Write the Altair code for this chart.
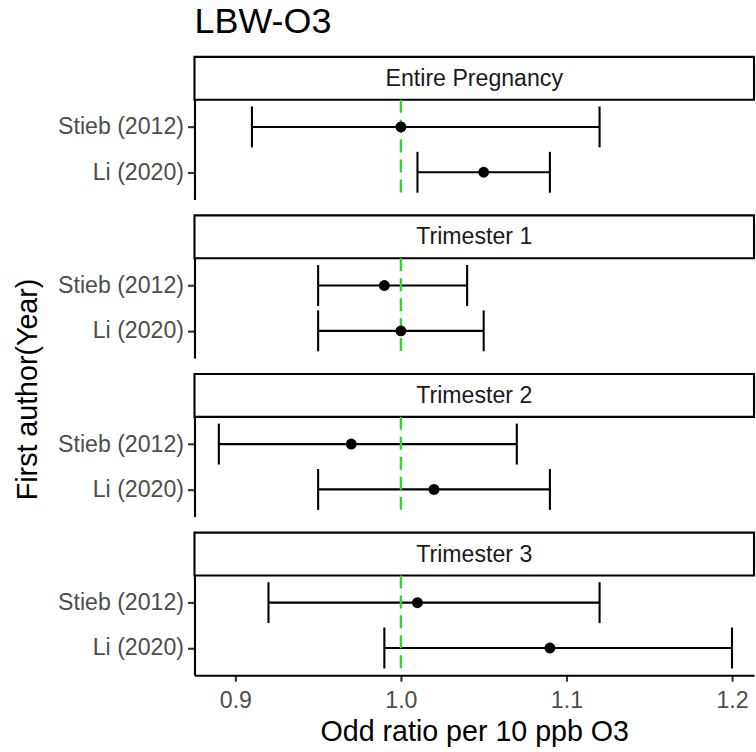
import altair as alt
import pandas as pd

# ---- data ----
periods = ["Entire Pregnancy", "Trimester 1", "Trimester 2", "Trimester 3"]
authors = ["Stieb (2012)", "Li (2020)"]
or_stieb = [1.00, 0.99, 0.97, 1.01]
lo_stieb = [0.91, 0.95, 0.89, 0.92]
hi_stieb = [1.12, 1.04, 1.07, 1.12]
or_li = [1.05, 1.00, 1.02, 1.09]
lo_li = [1.01, 0.95, 0.95, 0.99]
hi_li = [1.09, 1.05, 1.09, 1.20]
x_ticks = [0.9, 1.0, 1.1, 1.2]
ref_value = [1.0]

rows = []
for i, p in enumerate(periods):
    rows.append(dict(period=p, author=authors[0], OR=or_stieb[i], lo=lo_stieb[i], hi=hi_stieb[i]))
    rows.append(dict(period=p, author=authors[1], OR=or_li[i], lo=lo_li[i], hi=hi_li[i]))
df = pd.DataFrame(rows)
ref_df = pd.DataFrame({"ref": ref_value})

FONT = "Liberation Sans"
W = 561
PANEL_H = 100
STRIP_H = 43
GAP_H = 16
XDOM = [0.8753, 1.2133]
GREEN = "#33d433"
LW = 2.1
TICK_FS = 23.2
TITLE_FS = 28.7


def make_panel(p, i):
    last = i == len(periods) - 1
    if last:
        xaxis = alt.Axis(values=x_ticks, format=".1f", title="Odd ratio per 10 ppb O3",
                         grid=False, domainColor="black", domainWidth=LW,
                         tickColor="#333333", tickWidth=LW, tickSize=6,
                         labelFontSize=TICK_FS, labelColor="#4d4d4d", labelFont=FONT,
                         labelPadding=8, titleFontSize=TITLE_FS, titleFont=FONT,
                         titleFontWeight="normal", titleColor="black", titlePadding=6)
    else:
        xaxis = None
    yaxis_kw = dict(grid=False, domainColor="black", domainWidth=LW,
                    tickColor="#333333", tickWidth=LW, tickSize=7,
                    labelFontSize=TICK_FS, labelColor="#4d4d4d", labelFont=FONT,
                    labelPadding=4, labelBaseline="middle")
    if i == 1:
        yaxis = alt.Axis(title="First author(Year)", titleFontSize=TITLE_FS, titleFont=FONT,
                         titleFontWeight="normal", titleColor="black", titlePadding=15,
                         titleY=131, **yaxis_kw)
    else:
        yaxis = alt.Axis(title=None, **yaxis_kw)

    def X(field):
        return alt.X(field, type="quantitative",
                     scale=alt.Scale(domain=XDOM, nice=False, zero=False), axis=xaxis)

    Y = alt.Y("author:N", sort=authors, scale=alt.Scale(type="point", padding=0.6), axis=yaxis)

    d = df[df.period == p]
    base = alt.Chart(d)
    bars = base.mark_rule(color="black", strokeWidth=LW).encode(x=X("lo"), x2="hi:Q", y=Y)
    cap_lo = base.mark_tick(color="black", thickness=LW, size=41, opacity=1).encode(x=X("lo"), y=Y)
    cap_hi = base.mark_tick(color="black", thickness=LW, size=41, opacity=1).encode(x=X("hi"), y=Y)
    ref = alt.Chart(ref_df).mark_rule(color=GREEN, strokeWidth=2.4, strokeDash=[13, 7]).encode(x=X("ref"))
    pts = base.mark_point(filled=True, size=120, color="black", opacity=1).encode(x=X("OR"), y=Y)
    return alt.layer(bars, cap_lo, cap_hi, ref, pts).properties(width=W, height=PANEL_H)


def make_strip(p):
    return alt.Chart(pd.DataFrame({"period": [p]})).mark_text(
        fontSize=TICK_FS, color="#1a1a1a", font=FONT, baseline="middle", align="center"
    ).encode(
        text="period:N", x=alt.value(W / 2), y=alt.value(STRIP_H / 2 + 0.5)
    ).properties(
        width=W, height=STRIP_H,
        view=alt.ViewBackground(stroke="black", strokeWidth=LW, fill="white"),
    )


def make_gap():
    return alt.Chart(pd.DataFrame({"t": [""]})).mark_text().encode(
        text="t:N", x=alt.value(0), y=alt.value(0)
    ).properties(width=W, height=GAP_H)


cells = []
for i, p in enumerate(periods):
    if i > 0:
        cells.append(make_gap())
    cells.append(make_strip(p))
    cells.append(make_panel(p, i))

chart = alt.vconcat(*cells, spacing=0, bounds="flush").properties(
    title=alt.TitleParams("LBW-O3", anchor="start", frame="group", fontSize=36, font=FONT,
                          fontWeight="normal", color="black", offset=15),
    padding={"left": 13, "top": 2, "right": 0, "bottom": 0},
).configure_view(strokeWidth=0)

chart.save("out.html", embed_options={"renderer": "svg", "actions": False})
